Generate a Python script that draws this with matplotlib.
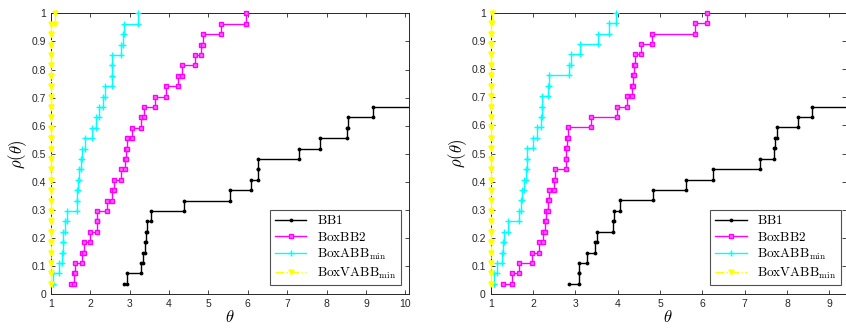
import numpy as np
import matplotlib
matplotlib.use("Agg")
import matplotlib.pyplot as plt

plt.rcParams['mathtext.fontset'] = 'cm'
plt.rcParams['font.family'] = ['Liberation Sans', 'DejaVu Sans']

n_problems = 27

# performance ratios (sorted), left panel
bb1_a = [2.86, 2.92, 3.29, 3.33, 3.40, 3.42, 3.44, 3.55, 4.37, 5.54, 6.08, 6.26,
         6.27, 7.29, 7.84, 8.51, 8.55, 9.19]
boxbb2_a = [1.52, 1.58, 1.62, 1.79, 1.83, 1.99, 2.17, 2.18, 2.43, 2.54, 2.60, 2.79,
            2.88, 2.90, 2.92, 3.05, 3.29, 3.37, 3.64, 3.92, 4.22, 4.32, 4.66, 4.81,
            4.86, 5.31, 5.95]
boxabb_a = [1.05, 1.05, 1.21, 1.29, 1.30, 1.31, 1.36, 1.40, 1.67, 1.67, 1.69, 1.71,
            1.76, 1.80, 1.87, 2.05, 2.14, 2.22, 2.31, 2.37, 2.54, 2.55, 2.55, 2.77,
            2.84, 2.86, 3.22]
boxvabb_a = [1.00, 1.00, 1.00, 1.00, 1.00, 1.00, 1.00, 1.00, 1.00, 1.00, 1.00, 1.00,
             1.00, 1.00, 1.00, 1.00, 1.00, 1.00, 1.00, 1.00, 1.00, 1.00, 1.00, 1.00,
             1.00, 1.00, 1.11]

# performance ratios (sorted), right panel
bb1_b = [2.86, 3.08, 3.08, 3.28, 3.47, 3.50, 3.88, 3.91, 4.05, 4.84, 5.61, 6.25,
         7.37, 7.69, 7.71, 7.76, 8.25, 8.59]
boxbb2_b = [1.30, 1.50, 1.66, 1.97, 2.15, 2.24, 2.29, 2.30, 2.35, 2.37, 2.50, 2.52,
            2.77, 2.79, 2.80, 2.82, 3.36, 3.99, 4.22, 4.33, 4.36, 4.38, 4.42, 4.54,
            4.82, 5.82, 6.11]
boxabb_b = [1.08, 1.08, 1.16, 1.26, 1.28, 1.31, 1.42, 1.68, 1.72, 1.74, 1.78, 1.83,
            1.85, 1.86, 2.01, 2.10, 2.19, 2.21, 2.22, 2.35, 2.38, 2.855, 2.89, 3.12,
            3.54, 3.79, 3.97]
boxvabb_b = [1.00, 1.00, 1.00, 1.00, 1.00, 1.00, 1.00, 1.00, 1.00, 1.00, 1.00, 1.00,
             1.00, 1.00, 1.00, 1.00, 1.00, 1.00, 1.00, 1.00, 1.00, 1.00, 1.00, 1.00,
             1.00, 1.00, 1.03]

labels = [r'$\mathrm{BB1}$', r'$\mathrm{BoxBB2}$',
          r'$\mathrm{BoxABB}_{\mathrm{min}}$', r'$\mathrm{BoxVABB}_{\mathrm{min}}$']
xticks_a = [1, 2, 3, 4, 5, 6, 7, 8, 9, 10]
xticks_b = [1, 2, 3, 4, 5, 6, 7, 8, 9]


def stairs(r, n, x_end):
    r = np.asarray(r, dtype=float)
    y = np.arange(1, len(r) + 1) / n
    xs = np.repeat(r, 2)[1:]
    ys = np.repeat(y, 2)[:-1]
    # unsolved problems: keep the last level running off to the right
    if len(r) < n:
        xs = np.append(xs, x_end)
        ys = np.append(ys, y[-1])
    return xs, ys


def profile(ax, data, xmax, xticks, anchor):
    styles = [dict(color='k', ls='-', marker='.', ms=3.5, clip_on=True),
              dict(color='#FF00FF', ls='-', marker='s', ms=3, mfc='#FF66FF', clip_on=False),
              dict(color='#00FFFF', ls='-', marker='+', ms=4.5, mew=1, clip_on=False),
              dict(color='#FFFF00', ls='-.', marker='v', ms=3.5, mfc='#FFFF00', clip_on=False)]
    for r, st, lab in zip(data, styles, labels):
        xs, ys = stairs(r, n_problems, xmax * 1.5)
        ax.plot(xs, ys, lw=1, label=lab, zorder=3, **st)
    ax.set_xlim(1, xmax)
    ax.set_ylim(0, 1)
    ax.set_xticks(xticks)
    ax.set_yticks(np.round(np.arange(0, 1.01, 0.1), 1))
    ax.set_yticklabels(['0', '0.1', '0.2', '0.3', '0.4', '0.5', '0.6', '0.7', '0.8', '0.9', '1'])
    ax.tick_params(direction='in', top=True, right=True, labelsize=7.5,
                   colors='#262626', length=3, width=0.6)
    for s in ax.spines.values():
        s.set_color('#262626')
        s.set_linewidth(0.7)
    ax.set_xlabel(r'$\theta$', fontsize=12, labelpad=0)
    ax.set_ylabel(r'$\rho(\theta)$', fontsize=12, labelpad=2)
    leg = ax.legend(loc='lower right', bbox_to_anchor=anchor, borderaxespad=0,
                    fancybox=False, fontsize=9.5, handlelength=2.4,
                    labelspacing=0.25, borderpad=0.35, handletextpad=0.8)
    leg.get_frame().set_edgecolor('#262626')
    leg.get_frame().set_linewidth(0.8)


fig = plt.figure(figsize=(8.46, 3.29), dpi=100)
ax1 = fig.add_axes([51 / 846, 1 - 294.3 / 329, 358.3 / 846, 281 / 329])
ax2 = fig.add_axes([490.7 / 846, 1 - 294.3 / 329, 354.8 / 846, 281.6 / 329])

profile(ax1, [bb1_a, boxbb2_a, boxabb_a, boxvabb_a], 10.1, xticks_a, (0.976, 0.032))
profile(ax2, [bb1_b, boxbb2_b, boxabb_b, boxvabb_b], 9.38, xticks_b, (0.987, 0.032))

plt.savefig("out.png", dpi=100)
